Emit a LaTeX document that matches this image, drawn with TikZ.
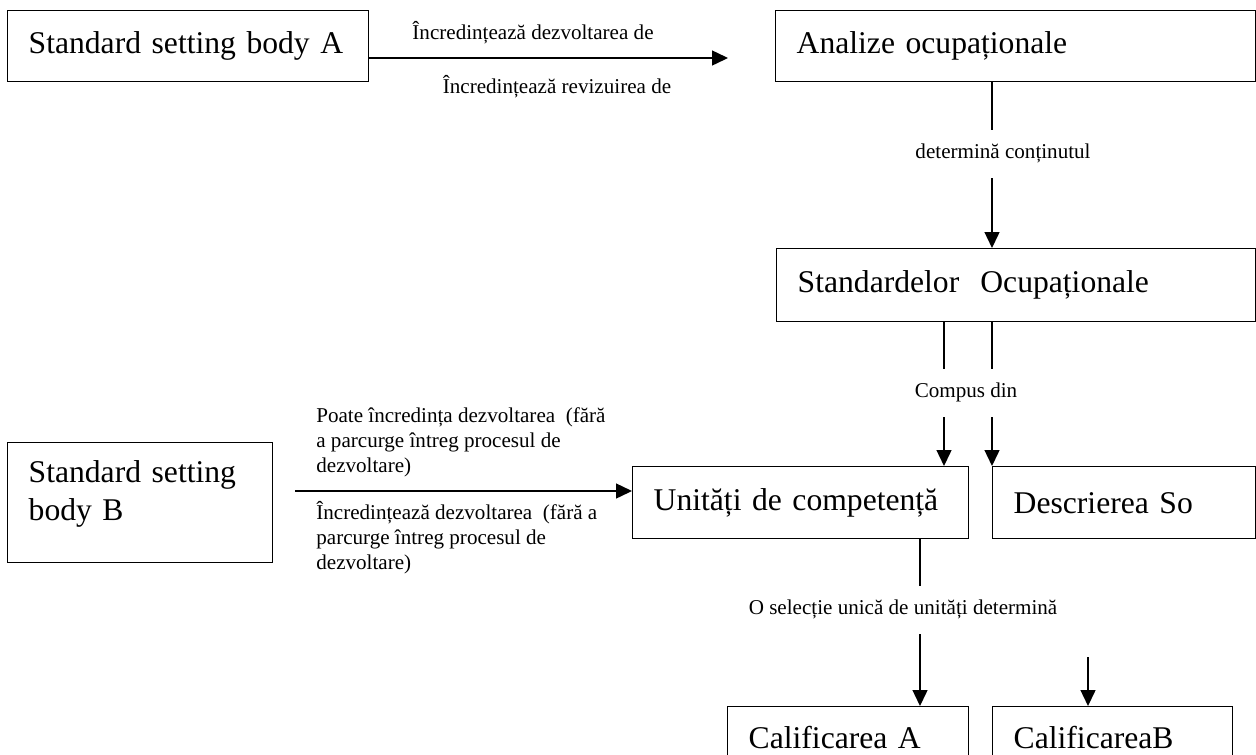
\documentclass[tikz,border=0pt]{standalone}
\usepackage{fontspec}
\setmainfont{Liberation Serif}
\usetikzlibrary{positioning, arrows.meta}

\begin{document}
\begin{tikzpicture}[
    x = 0.02cm, y = -0.02cm,
    box/.style = {rectangle, draw, line width = 0.8pt, anchor = north west, align = left, inner xsep = 0.42cm, inner ysep = 0pt, font = \fontsize{18}{21.6}\selectfont},
    lbl/.style = {inner sep = 0pt, align = left, font = \fontsize{12}{14.2}\selectfont},
    gap/.style = {lbl, fill = white, inner xsep = 2pt, inner ysep = 0.29cm, text height = 8.2pt, text depth = 2.6pt},
    path/.style = {arrows = ->, line width = 0.8pt, > = {Triangle[length = 0.32cm, width = 0.3cm]}},
    ]
    \clip (0,0) rectangle (1256,754);

    % boxes
    \node [box, text width = 6.38cm, minimum height = 1.42cm] (sbA)  at (7,10)    {Standard setting body A};
    \node [box, text width = 8.76cm, minimum height = 1.42cm] (anal) at (775,10)  {Analize ocupaționale};
    \node [box, text width = 8.74cm, minimum height = 1.46cm] (stdo) at (776,248) {Standardelor\ \ Ocupaționale};
    \node [box, text width = 4.46cm, minimum height = 2.4cm, text depth = 35.7pt] (sbB) at (7,442) {Standard setting\\body B};
    \node [box, text width = 5.88cm, minimum height = 1.44cm] (unit) at (632,466) {Unități de competență};
    \node [box, text width = 4.42cm, minimum height = 1.44cm] (desc) at (992,466) {Descrierea So};
    \node [box, text width = 3.98cm, minimum height = 1.24cm] (calA) at (727,706) {Calificarea A};
    \node [box, text width = 3.96cm, minimum height = 1.24cm] (calB) at (992,706) {CalificareaB};

    % free ends and columns
    \coordinate (aEnd)   at (728,58);
    \coordinate (bStart) at (295,491);
    \coordinate (xAnal)  at (992,0);
    \coordinate (xUnit)  at (944,0);
    \coordinate (xCalA)  at (920,0);
    \coordinate (bCalB)  at (1088,657);

    % draw paths
    \draw [path] (sbA.east |- aEnd) to (aEnd);
    \draw [path] (anal.south -| xAnal) to (stdo.north -| xAnal);
    \draw [path] (stdo.south -| xUnit) to (unit.north -| xUnit);
    \draw [path] (stdo.south -| desc.north west) to (desc.north west);
    \draw [path] (bStart) to (unit.west |- bStart);
    \draw [path] (unit.south -| xCalA) to (calA.north -| xCalA);
    \draw [path] (bCalB) to (calB.north -| bCalB);

    % labels
    \node [lbl] (devA)  at (533,33)  {Încredințează dezvoltarea de};
    \node [lbl] (revA)  at (557,87)  {Încredințează revizuirea de};
    \node [gap] (contO) at (1003,154) {determină conținutul};
    \node [gap] (compO) at (966,393)  {Compus din};
    \node [gap] (selU)  at (903,610)  {O selecție unică de unități determină};
    \node [lbl, anchor = west] (devB1) at (316,442) {Poate încredința dezvoltarea\ \ (fără\\a parcurge întreg procesul de\\dezvoltare)};
    \node [lbl, anchor = west] (devB2) at (316,538) {Încredințează dezvoltarea\ \ (fără a\\parcurge întreg procesul de\\dezvoltare)};
\end{tikzpicture}
\end{document}
